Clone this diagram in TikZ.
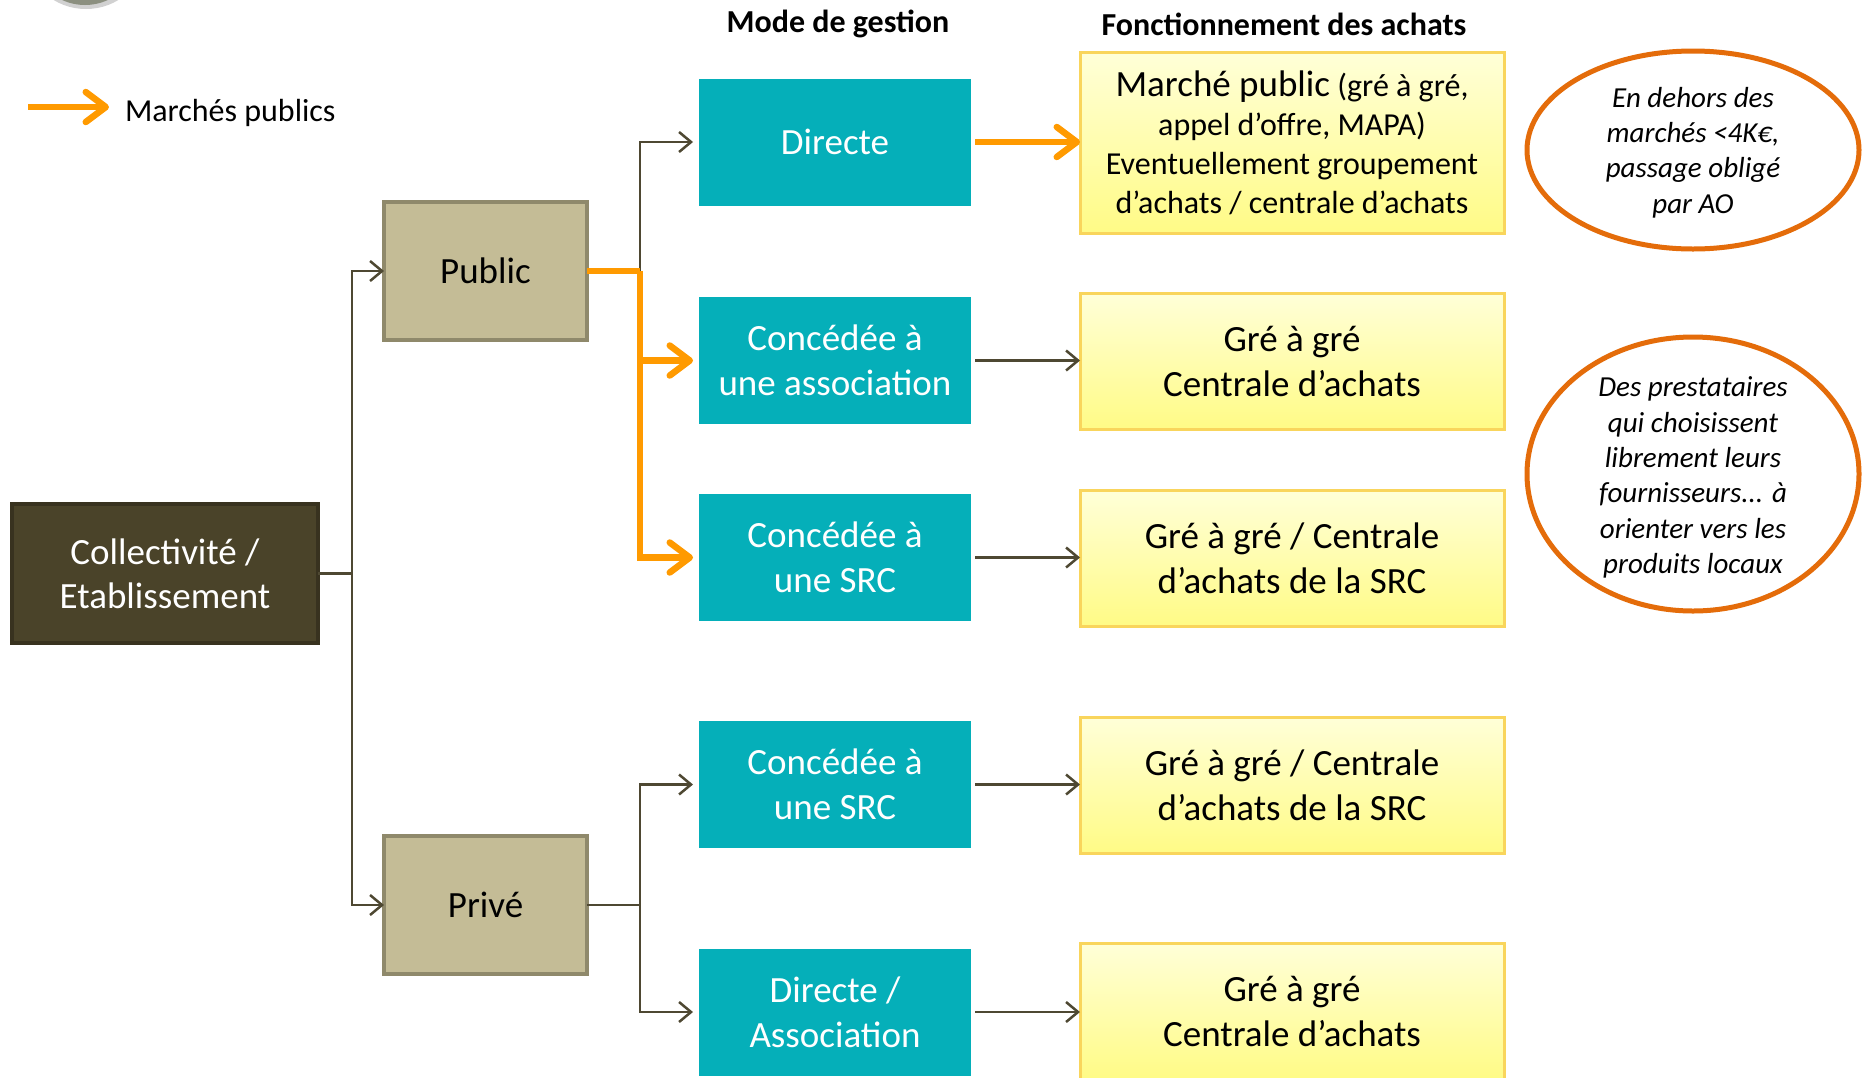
\documentclass[tikz,border=0pt]{standalone}
\usepackage{fontspec}
\setmainfont{Carlito}
\usetikzlibrary{arrows.meta,shapes.geometric,calc}

\definecolor{tealbox}{HTML}{05AFB9}
\definecolor{tanbox}{HTML}{C4BC96}
\definecolor{tanedge}{HTML}{8F896B}
\definecolor{darkbox}{HTML}{4A4329}
\definecolor{darkedge}{HTML}{38321F}
\definecolor{wire}{HTML}{4E4832}
\definecolor{orng}{HTML}{FF9A00}
\definecolor{ringc}{HTML}{E46C0A}
\definecolor{yeltop}{HTML}{FFFFD8}
\definecolor{yelbot}{HTML}{FFFB86}
\definecolor{yeledge}{HTML}{F9D55C}
\definecolor{logoring}{HTML}{8C9080}
\definecolor{logofill}{HTML}{AFC47E}

\newcommand\fsz[2]{\fontsize{#1}{#2}\selectfont}

\begin{document}
\begin{tikzpicture}[x=1pt,y=-1pt,
  every node/.style={inner sep=0pt, outer sep=0pt},
  mode/.style={fill=tealbox, text=white, minimum width=272pt, minimum height=127pt,
               align=center, font=\fsz{37}{45}},
  achat/.style={draw=yeledge, line width=3pt, top color=yeltop, bottom color=yelbot,
                minimum width=424pt, minimum height=136pt, align=center, font=\fsz{37}{45}},
  statut/.style={fill=tanbox, draw=tanedge, line width=4.5pt, minimum width=203pt,
                 minimum height=138pt, font=\fsz{37}{45}},
  entite/.style={fill=darkbox, draw=darkedge, line width=4.5pt, minimum width=306pt,
                 minimum height=139pt, text=white, align=center, font=\fsz{37}{44}},
  ring/.style={ellipse, draw=ringc, line width=5pt},
  note/.style={align=center, font=\fsz{29}{35.3}\itshape},
  header/.style={font=\fsz{32}{38}\bfseries},
  link/.style={draw=wire, line width=2.5pt, -{Straight Barb[length=12pt,width=20pt]}},
  plain/.style={draw=wire, line width=2.5pt},
  pubflow/.style={draw=orng, line width=6.5pt, -{Straight Barb[round,length=20pt,width=30pt]}},
  publine/.style={draw=orng, line width=6.5pt},
]
\useasboundingbox (0,0) rectangle (1863,1077);
\clip (0,0) rectangle (1863,1077);
\fill[white] (0,0) rectangle (1863,1077);

% emblem cut by the upper edge
\fill[black, opacity=0.18] (86,-42) ellipse [x radius=57, y radius=51];
\fill[logoring] (85,-46) ellipse [x radius=53, y radius=51];
\fill[logofill] (85,-49) ellipse [x radius=44, y radius=47];

% legend
\coordinate (lg0) at (28,107);
\node[anchor=west, font=\fsz{32}{38}] (lgt) at (125,113) {Marchés publics};
\draw[pubflow] (lg0) -- ([xshift=-16pt]lgt.west |- lg0);

% column headers
\node[header] (h1) at (838,23.5) {Mode de gestion};
\node[header] (h2) at (1284,24) {Fonctionnement des achats};

% structures
\node[entite] (coll) at (165,573.5) {Collectivité /\\Etablissement};
\node[statut] (pub) at (485.5,271) {Public};
\node[statut] (priv) at (485.5,905) {Privé};

% management modes
\node[mode] (directe) at (835,142) {Directe};
\node[mode] (assoc) at (835,360.5) {Concédée à\\une association};
\node[mode] (src1) at (835,557.5) {Concédée à\\une SRC};
\node[mode] (src2) at (835,784.5) {Concédée à\\une SRC};
\node[mode] (da) at (835,1012) {Directe /\\Association};

% purchasing
\node[achat, minimum height=181pt, font=\fsz{32}{39}] (a1) at (1292,142.5)
  {{\fsz{37}{39}Marché public} (gré à gré,\\appel d’offre, MAPA)\\Eventuellement groupement\\d’achats / centrale d’achats};
\node[achat] (a2) at (1292,361) {Gré à gré\\Centrale d’achats};
\node[achat] (a3) at (1292,558) {Gré à gré / Centrale\\d’achats de la SRC};
\node[achat] (a4) at (1292,785) {Gré à gré / Centrale\\d’achats de la SRC};
\node[achat] (a5) at (1292,1011) {Gré à gré\\Centrale d’achats};

% remarks
\node[ring, minimum width=332pt, minimum height=198pt] (e1) at (1693,150) {};
\node[note] (t1) at ([yshift=-2.5pt]e1.center) {En dehors des\\marchés <4K€,\\passage obligé\\par AO};
\node[ring, minimum width=332pt, minimum height=274pt] (e2) at (1693,474) {};
\node[note] (t2) at ([yshift=-3.5pt]e2.center) {Des prestataires\\qui choisissent\\librement leurs\\fournisseurs... à\\orienter vers les\\produits locaux};

% junctions
\coordinate (jp) at (640,271);
\coordinate (jv) at (640,905);

% structure branches
\draw[link] (coll.east) -- ++(34pt,0) |- (pub.west);
\draw[link] (coll.east) -- ++(34pt,0) |- (priv.west);

% public branch
\draw[link, shorten >=6pt] (jp) |- (directe.west);
\draw[publine] (pub.east) -- (jp);
\draw[pubflow, shorten >=6pt] (jp) |- (assoc.west);
\draw[pubflow, shorten >=6pt] (jp) |- (src1.west);

% private branch
\draw[plain] (priv.east) -- (jv);
\draw[link, shorten >=6pt] (jv) |- (src2.west);
\draw[link, shorten >=6pt] (jv) |- (da.west);

% mode to purchasing
\draw[pubflow, shorten <=4pt] (directe.east) -- (directe.east -| a1.west);
\draw[link, shorten <=4pt] (assoc.east) -- (assoc.east -| a2.west);
\draw[link, shorten <=4pt] (src1.east) -- (src1.east -| a3.west);
\draw[link, shorten <=4pt] (src2.east) -- (src2.east -| a4.west);
\draw[link, shorten <=4pt] (da.east) -- (da.east -| a5.west);
\end{tikzpicture}
\end{document}
